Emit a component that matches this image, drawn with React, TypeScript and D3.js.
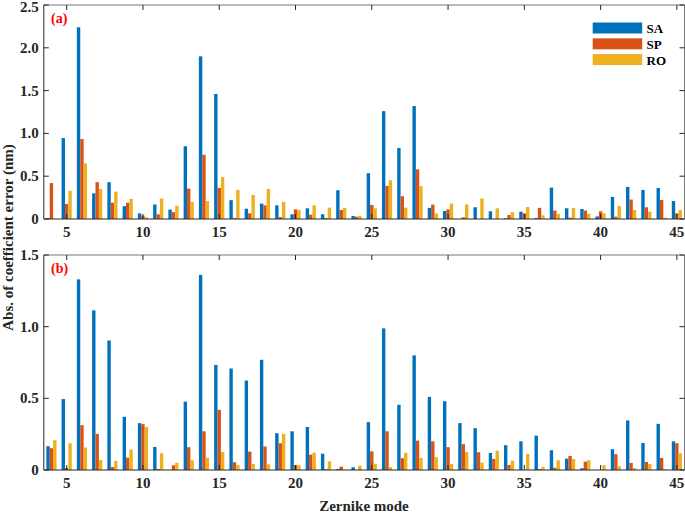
import React from "react";
import * as d3 from "d3";

const modes = [4,5,6,7,8,9,10,11,12,13,14,15,16,17,18,19,20,21,22,23,24,25,26,27,28,29,30,31,32,33,34,35,36,37,38,39,40,41,42,43,44,45];
const seriesNames = ["SA", "SP", "RO"];
const seriesColors = ["#0072BD", "#D95319", "#EDB120"];

const aSA = [0.01,0.945,2.24,0.30,0.43,0.15,0.066,0.17,0.11,0.85,1.90,1.46,0.22,0.12,0.18,0.16,0.055,0.125,0.055,0.336,0.035,0.535,1.26,0.83,1.32,0.13,0.094,0,0.137,0.09,0.008,0.086,0.01,0.367,0.125,0.117,0.03,0.258,0.375,0.34,0.363,0.21];
const aSP = [0.42,0.176,0.934,0.43,0.19,0.19,0.04,0.055,0.08,0.355,0.75,0.363,0.01,0.066,0.16,0.023,0.113,0.05,0.012,0.105,0.027,0.164,0.387,0.266,0.58,0.168,0.113,0.02,0,0,0.047,0.066,0.13,0.098,0.016,0.098,0.09,0.027,0.227,0.137,0.223,0.066];
const aRO = [0,0.33,0.65,0.35,0.32,0.235,0.02,0.24,0.156,0.2,0.21,0.49,0.34,0.28,0.35,0.2,0.105,0.16,0.133,0.13,0.035,0.125,0.453,0.133,0.383,0.066,0.18,0.17,0.24,0.125,0.08,0.14,0.043,0.06,0.13,0.06,0.066,0.152,0.105,0.086,0.016,0.105];

const bSA = [0.166,0.495,1.33,1.114,0.904,0.371,0.327,0.161,0,0.477,1.361,0.733,0.708,0.624,0.769,0.257,0.27,0.3,0.114,0.007,0.019,0.334,0.988,0.455,0.8,0.51,0.48,0.327,0.292,0.119,0.173,0.2,0.24,0.138,0.079,0.012,0,0.145,0.346,0.189,0.322,0.2];
const bSP = [0.152,0.014,0.313,0.252,0.021,0.086,0.32,0.007,0.033,0.159,0.27,0.42,0.054,0.128,0.164,0.187,0.035,0.107,0.005,0.023,0,0.13,0.27,0.082,0.205,0.2,0.159,0.18,0.124,0.077,0.035,0,0.007,0.016,0.098,0.058,0,0.11,0.049,0.056,0.084,0.187];
const bRO = [0.208,0.187,0.157,0.07,0.063,0.143,0.30,0.117,0.05,0.068,0.086,0.126,0.035,0.042,0.04,0.252,0.033,0.121,0.06,0,0.03,0.044,0.02,0.12,0.084,0.09,0.042,0.126,0.051,0.135,0.065,0.112,0.021,0.068,0.077,0.068,0.033,0.026,0.014,0.042,0.007,0.117];

const xTicks = [5,10,15,20,25,30,35,40,45];
const aYTicks = [0,0.5,1.0,1.5,2.0,2.5];
const bYTicks = [0,0.5,1.0,1.5];
const aYLabels = ["0","0.5","1.0","1.5","2.0","2.5"];
const bYLabels = ["0","0.5","1.0","1.5"];

const FONT = "'Liberation Serif', 'Times New Roman', serif";
const AXC = "#262626";

function Panel({ top, bottom, yMax, yTicks, yLabels, series, tag, legend }) {
  const x = d3.scaleLinear().domain([3.5, 45.5]).range([43.8, 684.5]);
  const y = d3.scaleLinear().domain([0, yMax]).range([bottom, top]);
  const step = 0.2222;
  const bw = x(step) - x(0);
  const left = x.range()[0];
  const right = x.range()[1];
  const tl = 5;
  return (
    <g>
      {series.map((vals, si) => (
        <g key={si} fill={seriesColors[si]}>
          {vals.map((v, i) => {
            const cx = x(modes[i] + (si - 1) * step);
            const y0 = y(0);
            const y1 = y(v);
            return v > 0 ? (
              <rect key={i} x={cx - bw / 2} y={y1} width={bw} height={y0 - y1} />
            ) : null;
          })}
        </g>
      ))}
      <line x1={left} x2={right} y1={top} y2={top} stroke="#777" strokeWidth={1} />
      <line x1={right} x2={right} y1={top} y2={bottom} stroke="#777" strokeWidth={1} />
      <line x1={left} x2={right} y1={bottom} y2={bottom} stroke={AXC} strokeWidth={1} />
      <line x1={left} x2={left} y1={top} y2={bottom} stroke={AXC} strokeWidth={1} />
      {xTicks.map((t) => (
        <g key={"x" + t}>
          <line x1={x(t)} x2={x(t)} y1={bottom} y2={bottom - tl} stroke={AXC} />
          <line x1={x(t)} x2={x(t)} y1={top} y2={top + tl} stroke={AXC} />
          <text x={x(t)} y={bottom + 18} textAnchor="middle" fontFamily={FONT} fontWeight="bold" fontSize={15} fill={AXC}>{t}</text>
        </g>
      ))}
      {yTicks.map((t, i) => (
        <g key={"y" + t}>
          <line x1={left} x2={left + tl} y1={y(t)} y2={y(t)} stroke={AXC} />
          <line x1={right} x2={right - tl} y1={y(t)} y2={y(t)} stroke={AXC} />
          <text x={left - 5} y={Math.max(y(t) + 5, 11.5)} textAnchor="end" fontFamily={FONT} fontWeight="bold" fontSize={15} fill={AXC}>{yLabels[i]}</text>
        </g>
      ))}
      <text x={51} y={top + 18} fontFamily={FONT} fontWeight="bold" fontSize={14} fill="#FF0000">{tag}</text>
      {legend && (
        <g>
          {seriesNames.map((n, i) => (
            <g key={n}>
              <rect x={592.7} y={22.5 + i * 15.8} width={49.5} height={11} fill={seriesColors[i]} />
              <text x={646.5} y={33 + i * 15.8} fontFamily={FONT} fontWeight="bold" fontSize={13} fill="#000">{n}</text>
            </g>
          ))}
        </g>
      )}
    </g>
  );
}

export default function App() {
  return (
    <svg width={685} height={513} style={{ position: "absolute", left: 0, top: 0, background: "#fff" }}>
      <rect x={0} y={0} width={685} height={513} fill="#fff" />
      <Panel top={5} bottom={219} yMax={2.5} yTicks={aYTicks} yLabels={aYLabels} series={[aSA, aSP, aRO]} tag="(a)" legend={true} />
      <Panel top={255} bottom={470} yMax={1.5} yTicks={bYTicks} yLabels={bYLabels} series={[bSA, bSP, bRO]} tag="(b)" legend={false} />
      <text transform="translate(13,237.5) rotate(-90)" textAnchor="middle" fontFamily={FONT} fontWeight="bold" fontSize={15} fill={AXC}>Abs. of coefficient error (nm)</text>
      <text x={364} y={511} textAnchor="middle" fontFamily={FONT} fontWeight="bold" fontSize={15} fill={AXC}>Zernike mode</text>
    </svg>
  );
}
